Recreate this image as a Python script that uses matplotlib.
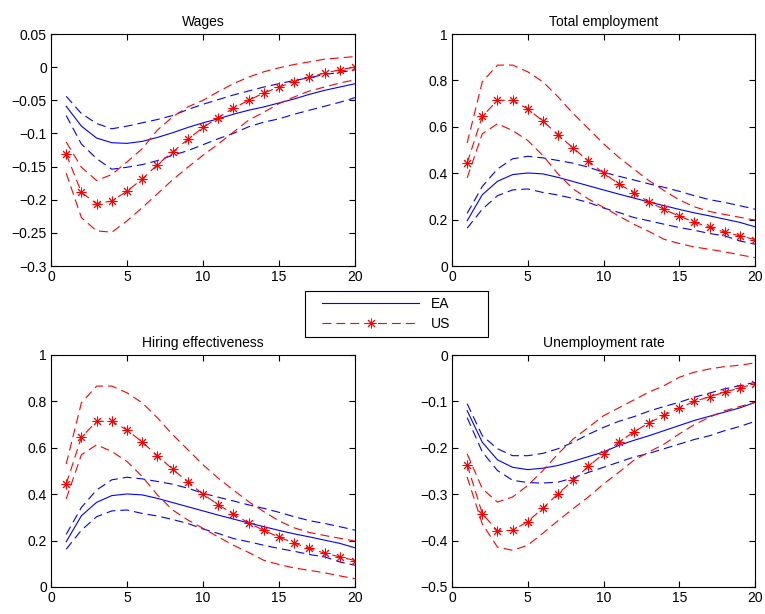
import numpy as np
import matplotlib
matplotlib.use('Agg')
import matplotlib.pyplot as plt

## Impulse responses, horizons 1..20

h = np.arange(1, 21)

# Wages
wag_ea = [-0.059, -0.089, -0.107, -0.114, -0.115, -0.112, -0.106, -0.099, -0.091, -0.084,
          -0.078, -0.071, -0.065, -0.060, -0.054, -0.048, -0.041, -0.035, -0.030, -0.025]
wag_ea_hi = [-0.044, -0.070, -0.085, -0.093, -0.089, -0.084, -0.079, -0.073, -0.064, -0.056,
             -0.049, -0.042, -0.036, -0.030, -0.025, -0.020, -0.016, -0.011, -0.008, -0.004]
wag_ea_lo = [-0.073, -0.116, -0.138, -0.154, -0.151, -0.147, -0.141, -0.133, -0.126, -0.117,
             -0.108, -0.100, -0.090, -0.083, -0.078, -0.071, -0.065, -0.059, -0.053, -0.046]
wag_us = [-0.131, -0.189, -0.206, -0.202, -0.187, -0.169, -0.147, -0.128, -0.109, -0.091,
          -0.076, -0.062, -0.050, -0.039, -0.030, -0.022, -0.015, -0.009, -0.004, 0.000]
wag_us_hi = [-0.113, -0.151, -0.171, -0.162, -0.143, -0.123, -0.095, -0.075, -0.060, -0.050,
             -0.037, -0.025, -0.015, -0.007, -0.001, 0.004, 0.008, 0.012, 0.014, 0.016]
wag_us_lo = [-0.160, -0.227, -0.247, -0.249, -0.232, -0.212, -0.191, -0.170, -0.151, -0.133,
             -0.116, -0.098, -0.080, -0.068, -0.055, -0.045, -0.036, -0.030, -0.024, -0.019]

# Total employment
emp_ea = [0.195, 0.307, 0.365, 0.394, 0.401, 0.397, 0.382, 0.364, 0.346, 0.328,
          0.310, 0.293, 0.276, 0.260, 0.244, 0.229, 0.216, 0.202, 0.188, 0.169]
emp_ea_hi = [0.227, 0.343, 0.418, 0.462, 0.473, 0.466, 0.455, 0.443, 0.426, 0.404,
             0.387, 0.371, 0.354, 0.339, 0.322, 0.303, 0.286, 0.274, 0.260, 0.245]
emp_ea_lo = [0.163, 0.245, 0.303, 0.328, 0.332, 0.317, 0.306, 0.291, 0.274, 0.250,
             0.231, 0.209, 0.195, 0.180, 0.166, 0.154, 0.140, 0.130, 0.108, 0.094]
emp_us = [0.444, 0.645, 0.714, 0.714, 0.677, 0.625, 0.566, 0.508, 0.453, 0.400,
          0.355, 0.315, 0.276, 0.244, 0.215, 0.189, 0.166, 0.146, 0.130, 0.114]
emp_us_hi = [0.530, 0.794, 0.866, 0.866, 0.837, 0.794, 0.729, 0.657, 0.592, 0.527,
             0.469, 0.418, 0.368, 0.325, 0.285, 0.255, 0.235, 0.222, 0.210, 0.198]
emp_us_lo = [0.380, 0.570, 0.613, 0.584, 0.541, 0.476, 0.397, 0.332, 0.289, 0.253,
             0.216, 0.180, 0.149, 0.115, 0.097, 0.082, 0.072, 0.061, 0.048, 0.036]

# Hiring effectiveness
hir_ea = [0.195, 0.307, 0.365, 0.394, 0.401, 0.397, 0.382, 0.364, 0.346, 0.328,
          0.310, 0.293, 0.276, 0.260, 0.244, 0.229, 0.216, 0.202, 0.188, 0.169]
hir_ea_hi = [0.227, 0.343, 0.418, 0.462, 0.473, 0.466, 0.455, 0.443, 0.426, 0.404,
             0.387, 0.371, 0.354, 0.339, 0.322, 0.303, 0.286, 0.274, 0.260, 0.245]
hir_ea_lo = [0.163, 0.245, 0.303, 0.328, 0.332, 0.317, 0.306, 0.291, 0.274, 0.250,
             0.231, 0.209, 0.195, 0.180, 0.166, 0.154, 0.140, 0.130, 0.108, 0.094]
hir_us = [0.444, 0.645, 0.714, 0.714, 0.677, 0.625, 0.566, 0.508, 0.453, 0.400,
          0.355, 0.315, 0.276, 0.244, 0.215, 0.189, 0.166, 0.146, 0.130, 0.114]
hir_us_hi = [0.530, 0.794, 0.866, 0.866, 0.837, 0.794, 0.729, 0.657, 0.592, 0.527,
             0.469, 0.418, 0.368, 0.325, 0.285, 0.255, 0.235, 0.222, 0.210, 0.198]
hir_us_lo = [0.380, 0.570, 0.613, 0.584, 0.541, 0.476, 0.397, 0.332, 0.289, 0.253,
             0.216, 0.180, 0.149, 0.115, 0.097, 0.082, 0.072, 0.061, 0.048, 0.036]

# Unemployment rate
une_ea = [-0.120, -0.188, -0.226, -0.242, -0.247, -0.244, -0.238, -0.229, -0.219, -0.209,
          -0.195, -0.184, -0.174, -0.163, -0.152, -0.141, -0.132, -0.123, -0.114, -0.102]
une_ea_hi = [-0.105, -0.174, -0.202, -0.217, -0.217, -0.212, -0.202, -0.188, -0.171, -0.156,
             -0.143, -0.133, -0.121, -0.111, -0.102, -0.091, -0.082, -0.073, -0.066, -0.059]
une_ea_lo = [-0.135, -0.209, -0.249, -0.270, -0.275, -0.276, -0.274, -0.265, -0.253, -0.242,
             -0.231, -0.220, -0.212, -0.202, -0.192, -0.182, -0.174, -0.163, -0.154, -0.143]
une_us = [-0.236, -0.342, -0.379, -0.378, -0.359, -0.330, -0.299, -0.270, -0.240, -0.213,
          -0.188, -0.166, -0.146, -0.130, -0.114, -0.100, -0.090, -0.080, -0.071, -0.062]
une_us_hi = [-0.213, -0.288, -0.317, -0.306, -0.281, -0.249, -0.213, -0.181, -0.156, -0.131,
             -0.114, -0.097, -0.080, -0.066, -0.048, -0.037, -0.030, -0.025, -0.022, -0.017]
une_us_lo = [-0.263, -0.364, -0.414, -0.421, -0.410, -0.384, -0.357, -0.331, -0.306, -0.278,
             -0.253, -0.227, -0.209, -0.192, -0.170, -0.150, -0.134, -0.120, -0.111, -0.102]

titles = ['Wages', 'Total employment', 'Hiring effectiveness', 'Unemployment rate']
ylims = [(-0.3, 0.05), (0, 1), (0, 1), (-0.5, 0)]
yticks = [np.arange(-0.3, 0.051, 0.05), np.arange(0, 1.01, 0.2),
          np.arange(0, 1.01, 0.2), np.arange(-0.5, 0.01, 0.1)]
ytick_labels = [['\u22120.3', '\u22120.25', '\u22120.2', '\u22120.15', '\u22120.1', '\u22120.05', '0', '0.05'],
                ['0', '0.2', '0.4', '0.6', '0.8', '1'],
                ['0', '0.2', '0.4', '0.6', '0.8', '1'],
                ['\u22120.5', '\u22120.4', '\u22120.3', '\u22120.2', '\u22120.1', '0']]
panels = [(wag_ea, wag_ea_lo, wag_ea_hi, wag_us, wag_us_lo, wag_us_hi),
          (emp_ea, emp_ea_lo, emp_ea_hi, emp_us, emp_us_lo, emp_us_hi),
          (hir_ea, hir_ea_lo, hir_ea_hi, hir_us, hir_us_lo, hir_us_hi),
          (une_ea, une_ea_lo, une_ea_hi, une_us, une_us_lo, une_us_hi)]

##

plt.rcParams['font.family'] = ['Liberation Sans', 'DejaVu Sans']
plt.rcParams['font.size'] = 10

W, H = 765, 614
fig = plt.figure(figsize=(W/100, H/100), dpi=100)

# axes boxes in pixels: left, top, right, bottom
boxes = [(51, 34, 355, 266), (452, 34, 755, 266),
         (51, 355, 355, 587), (452, 355, 755, 587)]

asterisk = (8, 2, 0)
dash = (8, 4.5)
lw = 0.8

for k, (l, t, r, b) in enumerate(boxes):
    ax = fig.add_axes([l/W, 1 - b/H, (r - l)/W, (b - t)/H])
    ea, ea_lo, ea_hi, us, us_lo, us_hi = panels[k]

    l_ea, = ax.plot(h, ea, color='b', lw=lw)
    ax.plot(h, ea_hi, color='b', lw=lw, ls=(0, dash))
    ax.plot(h, ea_lo, color='b', lw=lw, ls=(0, dash))
    l_us, = ax.plot(h, us, color='r', lw=lw, ls=(0, dash), marker=asterisk,
                    ms=7, mew=0.7, mec='r')
    ax.plot(h, us_hi, color='r', lw=lw, ls=(0, dash))
    ax.plot(h, us_lo, color='r', lw=lw, ls=(0, dash))

    ax.set_xlim(0, 20)
    ax.set_ylim(*ylims[k])
    ax.set_xticks([0, 5, 10, 15, 20])
    ax.set_yticks(yticks[k])
    ax.set_yticklabels(ytick_labels[k])
    ax.tick_params(direction='in', top=True, right=True, length=4, width=0.8,
                   labelsize=10, pad=3)
    for s in ax.spines.values():
        s.set_linewidth(0.8)
    ax.set_title(titles[k], fontsize=10, pad=6)

# legend frame drawn as a separate box, entries placed inside it
frame = plt.Rectangle((305/W, 1 - 337/H), 183/W, 46/H, transform=fig.transFigure,
                      facecolor='w', edgecolor='k', lw=0.8, zorder=5)
fig.add_artist(frame)
leg = fig.legend([l_ea, l_us], ['EA', 'US'], numpoints=1, loc='center left',
                 bbox_to_anchor=(316/W, 1 - 314/H), fontsize=10,
                 handlelength=7.05, handletextpad=0.8, borderpad=0.4,
                 labelspacing=0.45, frameon=False, borderaxespad=0)
leg.set_zorder(6)

fig.savefig('out.png', dpi=100)
